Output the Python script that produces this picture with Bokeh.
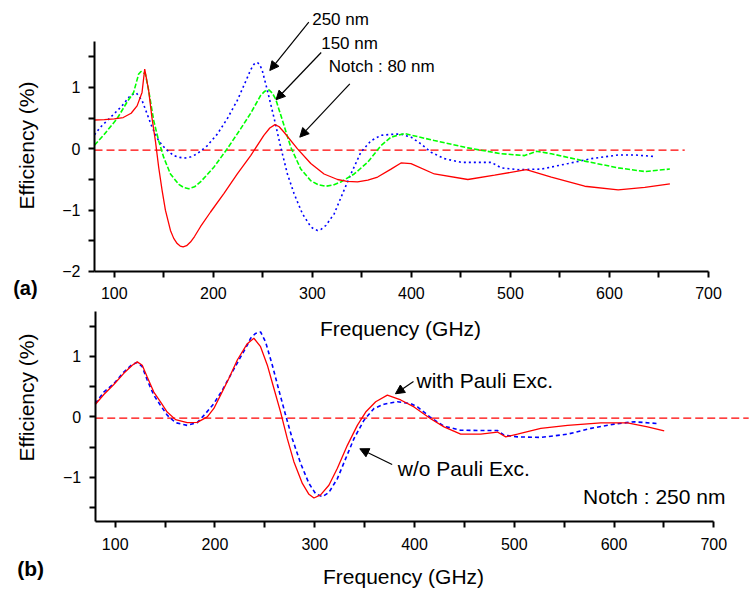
import math
from bokeh.plotting import figure
from bokeh.layouts import column
from bokeh.models import Label, Arrow, NormalHead, FixedTicker, Range1d
from bokeh.embed import file_html
from bokeh.resources import INLINE

# ---------------- data: panel (a) ----------------
a_red_x = [80, 90, 100, 109, 117, 123, 128, 130.7, 134.7, 138, 141.5, 144.8, 148.3, 151.6, 156.7,
           160, 163.5, 166.5, 169.5, 173, 176.9, 181, 187, 197.2, 210.6, 224.2, 237.7, 251, 257,
           262.3, 266.5, 271.4, 285, 298.4, 311.8, 325.4, 335, 345.6, 356, 365.9, 379.4, 389.5,
           399.6, 423.2, 457, 484, 516, 541.3, 575, 608.8, 635.7, 661]
a_red_y = [0.47, 0.475, 0.49, 0.51, 0.58, 0.70, 0.92, 1.30, 0.95, 0.51, 0.13, -0.30, -0.68, -1.00,
           -1.33, -1.46, -1.545, -1.585, -1.60, -1.58, -1.52, -1.43, -1.27, -1.03, -0.73, -0.41,
           -0.11, 0.22, 0.34, 0.395, 0.36, 0.27, 0.0, -0.24, -0.41, -0.50, -0.53, -0.54, -0.51,
           -0.46, -0.33, -0.23, -0.24, -0.41, -0.50, -0.43, -0.34, -0.46, -0.61, -0.67, -0.63,
           -0.57]

a_green_x = [80, 89, 102.7, 112.8, 119.5, 124.6, 127, 131.4, 134.7, 139.8, 144.8, 149.9, 156.7,
             165.1, 170, 175.2, 181, 187, 200.5, 214, 227.5, 237.7, 247.8, 252, 256.2, 259.5, 263,
             271.4, 278.1, 288.3, 298.4, 306, 313.6, 321, 328.7, 342.2, 355.8, 369.2, 379.4,
             392.8, 423.2, 457, 490.7, 514.3, 526.1, 541.3, 575, 608.8, 635.7, 661]
a_green_y = [0.06, 0.22, 0.49, 0.76, 0.92, 1.22, 1.26, 1.22, 0.95, 0.46, 0.13, -0.14, -0.41, -0.58,
             -0.63, -0.65, -0.62, -0.54, -0.30, 0.0, 0.325, 0.58, 0.87, 0.94, 0.96, 0.91, 0.81,
             0.38, 0.03, -0.33, -0.52, -0.585, -0.61, -0.59, -0.54, -0.41, -0.22, 0.05, 0.19,
             0.25, 0.135, 0.015, -0.08, -0.11, -0.04, -0.08, -0.20, -0.31, -0.37, -0.33]

a_blue_x = [80, 85.8, 96, 107.8, 116.2, 122.3, 128, 133.1, 138.2, 144.8, 151.6, 160, 166, 171.9,
            177.5, 183.7, 193.8, 204, 214, 224.2, 234.3, 237.7, 241, 244.4, 247, 249.5, 254.6,
            261.2, 268, 274.8, 281.5, 290, 298.4, 301.8, 305.2, 309, 313.6, 322, 330.5, 338.9,
            349, 359.1, 369.2, 382.7, 389.5, 399.6, 409.7, 419.8, 433.3, 450.2, 480.6, 490.7,
            507.6, 531.2, 558.2, 581.8, 608.8, 625.6, 645.9]
a_blue_y = [0.23, 0.35, 0.51, 0.70, 0.87, 0.91, 0.79, 0.57, 0.35, 0.13, 0.0, -0.11, -0.14, -0.15,
            -0.13, -0.08, 0.05, 0.24, 0.49, 0.79, 1.16, 1.29, 1.38, 1.41, 1.37, 1.27, 0.95, 0.51,
            0.03, -0.41, -0.73, -1.06, -1.27, -1.31, -1.33, -1.31, -1.25, -1.06, -0.73, -0.41,
            -0.055, 0.13, 0.22, 0.24, 0.24, 0.19, 0.08, -0.055, -0.16, -0.22, -0.22, -0.31,
            -0.34, -0.33, -0.24, -0.16, -0.10, -0.10, -0.125]

a_zero_x = [80, 676]
a_zero_y = [-0.02, -0.02]

# ---------------- data: panel (b) ----------------
b_red_x = [80, 88.6, 98.6, 108.6, 117.1, 122.1, 127.1, 132.1, 138.7, 145.4, 152.1, 160.5, 172.2,
           182.2, 192.3, 198.9, 205.6, 213.9, 222.4, 232.4, 239, 245.7, 252.5, 259.1, 265.8,
           272.5, 279.1, 287.6, 294.2, 299.2, 305.9, 314.2, 322.7, 332.7, 342.7, 351.1, 361.1,
           372.8, 386.2, 399.5, 416.2, 429.6, 446.3, 466.4, 483.1, 491.5, 503.2, 526.6, 553.4,
           586.8, 613.5, 633.6, 650.3]
b_red_y = [0.205, 0.37, 0.535, 0.72, 0.855, 0.91, 0.855, 0.66, 0.41, 0.25, 0.08, -0.045, -0.095,
           -0.09, 0.0, 0.14, 0.36, 0.635, 0.94, 1.21, 1.30, 1.16, 0.855, 0.47, 0.08, -0.36, -0.74,
           -1.10, -1.28, -1.34, -1.29, -1.13, -0.85, -0.47, -0.14, 0.08, 0.25, 0.36, 0.28, 0.165,
           -0.03, -0.165, -0.285, -0.285, -0.25, -0.33, -0.285, -0.19, -0.14, -0.10, -0.10,
           -0.165, -0.23]

b_blue_x = [80, 88.6, 98.6, 108.6, 117.1, 122.1, 127.1, 132.1, 138.7, 145.4, 152.1, 160.5, 172.2,
            182.2, 190.6, 198.9, 207.3, 215.6, 224.0, 232.4, 235.7, 240.7, 245.7, 250.7, 257.5,
            264.1, 270.8, 277.5, 285.9, 294.2, 300.9, 307.6, 314.2, 322.7, 331, 339.3, 349.4,
            359.4, 369.4, 382.8, 396.2, 403, 416.2, 429.6, 446.3, 466.4, 483.1, 489.8, 503.2,
            526.6, 553.4, 576.8, 600.1, 620.2, 643.6]
b_blue_y = [0.22, 0.41, 0.55, 0.74, 0.87, 0.90, 0.83, 0.61, 0.36, 0.19, 0.03, -0.095, -0.14,
            -0.095, 0.055, 0.22, 0.44, 0.69, 0.94, 1.185, 1.30, 1.38, 1.405, 1.24, 0.855, 0.44,
            0.03, -0.36, -0.77, -1.10, -1.27, -1.32, -1.25, -1.02, -0.69, -0.36, -0.055, 0.14,
            0.21, 0.25, 0.22, 0.165, -0.01, -0.155, -0.22, -0.225, -0.225, -0.30, -0.33, -0.34,
            -0.285, -0.19, -0.12, -0.08, -0.11]

b_zero_x = [80, 735]
b_zero_y = [-0.02, -0.02]

x_major = [100, 200, 300, 400, 500, 600, 700]
x_minor = [150, 250, 350, 450, 550, 650]
a_y_major = [-2, -1, 0, 1]
b_y_major = [-1, 0, 1]
y_minor = [-1.5, -0.5, 0.5, 1.5]

FONT = "Liberation Sans"
RED = "#ff0000"
GREEN = "#00ff00"
BLUE = "#0000ff"


def style(p, y_major, xb, yb):
    p.grid.visible = False
    p.outline_line_color = None
    p.background_fill_color = "white"
    p.border_fill_color = "white"
    p.xaxis.ticker = FixedTicker(ticks=x_major, minor_ticks=x_minor)
    p.yaxis.ticker = FixedTicker(ticks=y_major, minor_ticks=y_minor)
    p.xaxis.bounds = xb
    p.yaxis.bounds = yb
    p.xaxis.fixed_location = yb[0]
    p.yaxis.fixed_location = xb[0]
    for ax in (p.xaxis, p.yaxis):
        ax.axis_line_width = 2
        ax.axis_line_color = "black"
        ax.major_tick_line_width = 2
        ax.minor_tick_line_width = 2
        ax.major_tick_out = 6
        ax.major_tick_in = 0
        ax.minor_tick_out = 6
        ax.minor_tick_in = 0
        ax.major_tick_line_color = "black"
        ax.minor_tick_line_color = "black"
        ax.major_label_text_font = FONT
        ax.major_label_text_font_size = "16px"
        ax.major_label_text_color = "black"
    p.xaxis.major_label_standoff = 10
    p.yaxis.major_label_standoff = 8


def lab(p, x, y, text, size, align="left", angle=0.0, bold=False):
    p.add_layout(Label(x=x, y=y, text=text, text_font=FONT, text_font_size=size,
                       text_align=align, text_baseline="middle", angle=angle,
                       text_color="black", text_font_style="bold" if bold else "normal"))


def arrow(p, x0, y0, x1, y1):
    p.add_layout(Arrow(end=NormalHead(size=9, fill_color="black", line_color="black"),
                       x_start=x0, y_start=y0, x_end=x1, y_end=y1,
                       line_color="black", line_width=1.2))


# ---------------- panel (a) ----------------
p1 = figure(width=749, height=303, x_range=Range1d(-14.92, 741.4), y_range=Range1d(-2.5218, 2.4185),
            output_backend="svg", toolbar_location=None,
            min_border_left=0, min_border_right=0, min_border_top=0, min_border_bottom=0)
style(p1, a_y_major, (80, 700), (-2, 1.75))

p1.line(a_zero_x, a_zero_y, line_color=RED, line_width=1.3, line_dash="8 4")
p1.line(a_blue_x, a_blue_y, line_color=BLUE, line_width=1.6, line_dash="2 3")
p1.line(a_green_x, a_green_y, line_color=GREEN, line_width=1.6, line_dash="5 2")
p1.line(a_red_x, a_red_y, line_color=RED, line_width=1.3)

lab(p1, 299.8, 2.109, "250 nm", "17px")
lab(p1, 308.9, 1.7255, "150 nm", "17px")
lab(p1, 316.6, 1.344, "Notch : 80 nm", "17px")
arrow(p1, 296.4, 2.065, 257.0, 1.277)
arrow(p1, 308.9, 1.571, 263.3, 0.80)
arrow(p1, 337.8, 1.06, 287.3, 0.19)
lab(p1, 11.3, 0.054, "Efficiency (%)", "21px", align="center", angle=math.pi / 2)
lab(p1, -2.1, -2.261, "(a)", "20px", bold=True)

# ---------------- panel (b) ----------------
p2 = figure(width=749, height=289, x_range=Range1d(-14.97, 735.8), y_range=Range1d(-2.9025, 1.8744),
            output_backend="svg", toolbar_location=None,
            min_border_left=0, min_border_right=0, min_border_top=0, min_border_bottom=0)
style(p2, b_y_major, (80, 700), (-1.73, 1.75))

p2.line(b_zero_x, b_zero_y, line_color=RED, line_width=1.3, line_dash="8 4")
p2.line(b_blue_x, b_blue_y, line_color=BLUE, line_width=1.6, line_dash="4 3")
p2.line(b_red_x, b_red_y, line_color=RED, line_width=1.3)

lab(p2, 386.0, 1.469, "Frequency (GHz)", "21px", align="center")
lab(p2, 402.0, 0.607, "with Pauli Exc.", "21px")
arrow(p2, 399.0, 0.585, 380.9, 0.382)
lab(p2, 383.3, -0.845, "w/o Pauli Exc.", "21px")
arrow(p2, 377.6, -0.787, 345.2, -0.527)
lab(p2, 711.7, -1.321, "Notch : 250 nm", "21px", align="right")
lab(p2, 389.0, -2.635, "Frequency (GHz)", "21px", align="center")
lab(p2, 11.1, 0.321, "Efficiency (%)", "21px", align="center", angle=math.pi / 2)
lab(p2, 1.77, -2.506, "(b)", "21px", bold=True)

layout = column(p1, p2, spacing=0)
open("out.html", "w").write(file_html(layout, INLINE))
